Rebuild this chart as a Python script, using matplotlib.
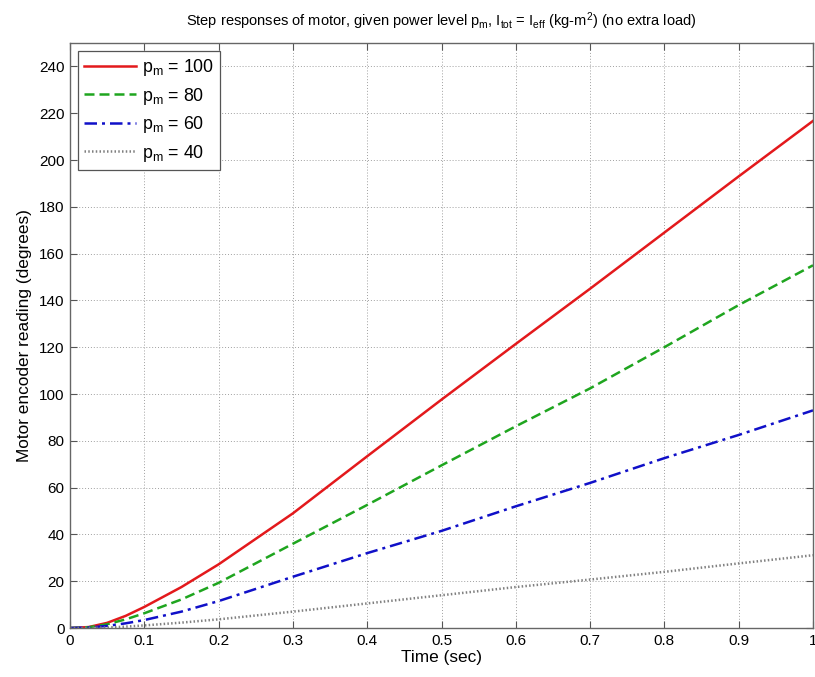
import matplotlib
matplotlib.use("Agg")
import matplotlib.pyplot as plt

plt.rcParams["font.family"] = ["Liberation Sans", "DejaVu Sans"]
plt.rcParams["mathtext.fontset"] = "custom"
plt.rcParams["mathtext.rm"] = "Liberation Sans"
plt.rcParams["mathtext.it"] = "Liberation Sans"

# time (sec) and encoder readings (degrees)
t = [0, 0.025, 0.05, 0.075, 0.1, 0.15, 0.2, 0.3, 0.4, 0.5, 0.6, 0.7, 0.8, 0.9, 1.0]
pm100 = [0, 0.4, 2.2, 5.2, 9.0, 17.5, 27.2, 49.0, 73.4, 97.6, 121.4, 145.0, 169.0, 193.0, 216.7]
pm80 = [0, 0.3, 1.6, 3.7, 6.3, 12.2, 19.3, 36.0, 52.6, 69.5, 86.2, 102.4, 120.0, 138.0, 155.0]
pm60 = [0, 0.2, 0.9, 2.0, 3.4, 7.0, 11.5, 21.9, 32.0, 41.5, 52.0, 62.0, 72.6, 82.5, 93.0]
pm40 = [0, 0.05, 0.2, 0.6, 1.1, 2.3, 3.7, 7.0, 10.5, 14.0, 17.5, 20.7, 24.0, 27.6, 31.1]

fig = plt.figure(figsize=(8.15, 6.77), dpi=100)
ax = fig.add_axes([70 / 815, 49 / 677, 743 / 815, 585 / 677])

ax.plot(t, pm100, color="#e3191c", lw=1.8, ls="-", label=r"$\mathregular{p_m}$ = 100")
ax.plot(t, pm80, color="#1fa51f", lw=1.8, ls=(0, (4, 2)), label=r"$\mathregular{p_m}$ = 80")
ax.plot(t, pm60, color="#1010c8", lw=1.8, ls=(0, (5, 2, 1.2, 2)), label=r"$\mathregular{p_m}$ = 60")
ax.plot(t, pm40, color="#808080", lw=1.8, ls=(0, (0.6, 0.9)), label=r"$\mathregular{p_m}$ = 40")

ax.set_xlim(0, 1)
ax.set_ylim(0, 250)
ax.set_xticks([0, 0.1, 0.2, 0.3, 0.4, 0.5, 0.6, 0.7, 0.8, 0.9, 1])
ax.set_xticklabels(["0", "0.1", "0.2", "0.3", "0.4", "0.5", "0.6", "0.7", "0.8", "0.9", "1"])
ax.set_yticks(range(0, 241, 20))
ax.tick_params(direction="in", length=5, top=True, right=True, labelsize=11,
               color="#555555", pad=4)
for s in ax.spines.values():
    s.set_color("#666666")
    s.set_linewidth(1.0)
ax.grid(True, ls=(0, (1, 2)), lw=0.7, color="#a0a0a0")

ax.set_xlabel("Time (sec)", fontsize=12.4, labelpad=2)
ax.set_ylabel("Motor encoder reading (degrees)", fontsize=12.4, labelpad=5)
ax.set_title(r"Step responses of motor, given power level $\mathregular{p_m}$, "
             r"$\mathregular{I_{tot}}$ = $\mathregular{I_{eff}}$ "
             r"(kg-m$\mathregular{^2}$) (no extra load)", fontsize=10.5, pad=12)

leg = ax.legend(loc="upper left", fontsize=12.8, fancybox=False, framealpha=1,
                edgecolor="#555555", handlelength=2.9, handletextpad=0.33,
                labelspacing=0.42, borderaxespad=0.45, borderpad=0.35)
leg.get_frame().set_linewidth(0.9)

fig.savefig("out.png", dpi=100, facecolor="white")
